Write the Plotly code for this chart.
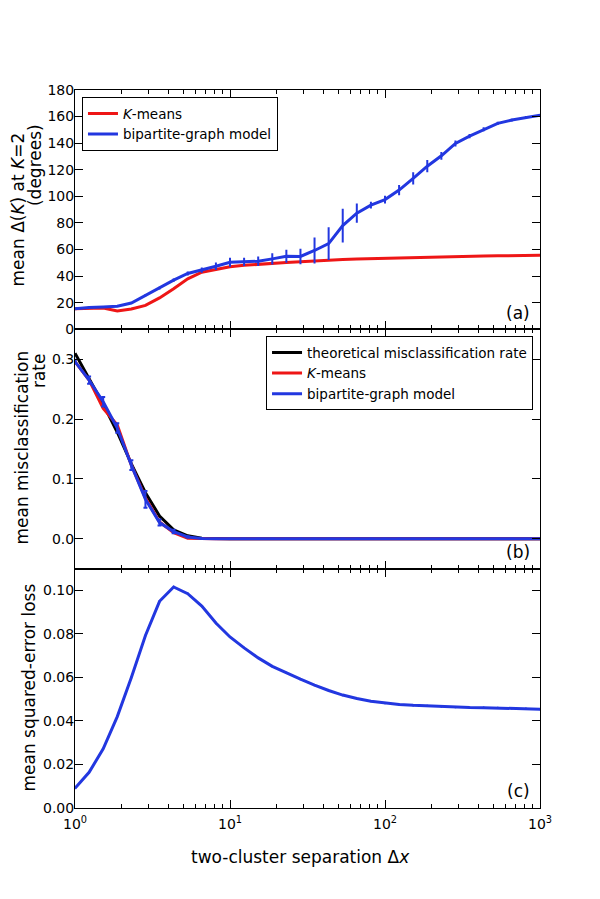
import plotly.graph_objects as go
from plotly.subplots import make_subplots

# separation values (log spaced, 1 to 1000)
sep = [1.0, 1.233, 1.52, 1.874, 2.31, 2.848, 3.511, 4.329, 5.337, 6.579,
       8.111, 10.0, 12.33, 15.2, 18.74, 23.1, 28.48, 35.11, 43.29, 53.37,
       65.79, 81.11, 100.0, 123.3, 152.0, 187.4, 231.0, 284.8, 351.1, 432.9,
       533.7, 657.9, 811.1, 1000.0]

# (a) mean Delta(K) at K=2, degrees
delta_kmeans = [15.5, 15.9, 16.0, 13.8, 15.3, 18.0, 23.6, 30.6, 38.0, 43.0,
                45.0, 47.0, 48.2, 48.7, 49.4, 50.2, 50.8, 51.5, 52.0, 52.5,
                52.9, 53.2, 53.5, 53.8, 54.0, 54.3, 54.5, 54.7, 54.9, 55.1,
                55.3, 55.5, 55.6, 55.7]
delta_bip = [15.5, 16.5, 16.8, 17.3, 19.8, 25.6, 31.0, 37.0, 42.0, 44.5,
             47.5, 50.5, 50.7, 51.2, 53.0, 55.0, 54.8, 59.3, 64.5, 78.0,
             87.4, 93.4, 97.6, 104.7, 113.5, 122.7, 130.5, 139.8, 145.3, 150.4,
             154.9, 157.4, 159.4, 161.0]
delta_bip_err = [0.3, 0.4, 0.4, 0.5, 0.6, 0.8, 1.0, 1.2, 1.5, 2.0,
                 2.8, 3.4, 3.1, 3.5, 4.3, 4.9, 5.8, 9.8, 12.3, 12.6,
                 7.3, 2.5, 2.9, 3.8, 4.6, 4.6, 2.9, 2.3, 1.6, 1.5,
                 1.2, 1.0, 1.0, 1.0]

# (b) mean misclassification rate
mis_theory = [0.31, 0.268, 0.225, 0.178, 0.125, 0.077, 0.038, 0.015, 0.005, 0.001,
              0.0002, 0, 0, 0, 0, 0, 0, 0, 0, 0,
              0, 0, 0, 0, 0, 0, 0, 0, 0, 0,
              0, 0, 0, 0]
mis_kmeans = [0.296, 0.265, 0.218, 0.19, 0.123, 0.068, 0.028, 0.01, 0.001, 0.0,
              0, 0, 0, 0, 0, 0, 0, 0, 0, 0,
              0, 0, 0, 0, 0, 0, 0, 0, 0, 0,
              0, 0, 0, 0]
mis_bip = [0.296, 0.265, 0.229, 0.185, 0.123, 0.066, 0.027, 0.012, 0.003, 0.0005,
           0, 0, 0, 0, 0, 0, 0, 0, 0, 0,
           0, 0, 0, 0, 0, 0, 0, 0, 0, 0,
           0, 0, 0, 0]
mis_bip_err = [0.003, 0.006, 0.008, 0.008, 0.008, 0.014, 0.005, 0.003, 0.001, 0,
               0, 0, 0, 0, 0, 0, 0, 0, 0, 0,
               0, 0, 0, 0, 0, 0, 0, 0, 0, 0,
               0, 0, 0, 0]

# (c) mean squared-error loss
mse_bip = [0.0091, 0.0164, 0.0272, 0.042, 0.060, 0.0793, 0.095, 0.1016, 0.0985, 0.0928,
           0.085, 0.0786, 0.0736, 0.069, 0.0651, 0.0621, 0.0592, 0.0565, 0.054, 0.0519,
           0.0503, 0.0491, 0.0482, 0.0476, 0.0472, 0.0469, 0.0466, 0.0464, 0.0462, 0.0461,
           0.046, 0.0458, 0.0457, 0.0454]
mse_bip_err = [0.0005] * len(mse_bip)

RED = "#ee1616"
BLUE = "#2237e0"

fig = make_subplots(rows=3, cols=1, shared_xaxes=True, vertical_spacing=0)

# --- panel (a) ---
fig.add_trace(go.Scatter(x=sep, y=delta_kmeans, mode="lines", name="<i>K</i>-means",
                         line=dict(color=RED, width=3), legend="legend"), row=1, col=1)
fig.add_trace(go.Scatter(x=sep, y=delta_bip, mode="lines", name="bipartite-graph model",
                         line=dict(color=BLUE, width=3), legend="legend",
                         error_y=dict(type="data", array=delta_bip_err, color=BLUE,
                                      thickness=2, width=0)), row=1, col=1)

# --- panel (b) ---
fig.add_trace(go.Scatter(x=sep, y=mis_theory, mode="lines", name="theoretical misclassification rate",
                         line=dict(color="black", width=3), legend="legend2"), row=2, col=1)
fig.add_trace(go.Scatter(x=sep, y=mis_kmeans, mode="lines", name="<i>K</i>-means",
                         line=dict(color=RED, width=3), legend="legend2"), row=2, col=1)
fig.add_trace(go.Scatter(x=sep, y=mis_bip, mode="lines", name="bipartite-graph model",
                         line=dict(color=BLUE, width=3), legend="legend2",
                         error_y=dict(type="data", array=mis_bip_err, color=BLUE,
                                      thickness=2, width=2)), row=2, col=1)

# --- panel (c) ---
fig.add_trace(go.Scatter(x=sep, y=mse_bip, mode="lines", showlegend=False,
                         line=dict(color=BLUE, width=3),
                         error_y=dict(type="data", array=mse_bip_err, color=BLUE,
                                      thickness=1.5, width=0)), row=3, col=1)

axis_style = dict(showline=True, linecolor="black", linewidth=1, mirror="allticks",
                  ticks="inside", ticklen=8, tickcolor="black", showgrid=False,
                  zeroline=False, tickfont=dict(size=14, color="black"), automargin=False)

for r in (1, 2, 3):
    fig.update_xaxes(type="log", range=[0, 3], tickvals=[1, 10, 100, 1000],
                     ticktext=["10<sup>0</sup>", "10<sup>1</sup>", "10<sup>2</sup>", "10<sup>3</sup>"],
                     minor=dict(ticks="inside", ticklen=4, tickcolor="black",
                                tickvals=[v * d for d in (1, 10, 100) for v in range(2, 10)]),
                     ticklabelstandoff=3, row=r, col=1, **axis_style)

fig.update_yaxes(range=[0, 180], tickvals=list(range(0, 181, 20)), ticklabelstandoff=-3,
                 row=1, col=1, **axis_style)
fig.update_yaxes(range=[-0.05, 0.35], tickvals=[0.0, 0.1, 0.2, 0.3], tickformat=".1f",
                 ticklabelstandoff=-3, row=2, col=1, **axis_style)
fig.update_yaxes(range=[0, 0.11], tickvals=[0, 0.02, 0.04, 0.06, 0.08, 0.10], tickformat=".2f",
                 ticklabelstandoff=-3, row=3, col=1, **axis_style)

# y-axis titles, one rotated annotation per line (placed like the original)
y_titles = [("mean Δ(<i>K</i>) at <i>K</i>=2", -0.1235, 0.833),
            ("(degrees)", -0.086, 0.8955),
            ("mean misclassification", -0.114, 0.502),
            ("rate", -0.0774, 0.6086),
            ("mean squared-error loss", -0.0989, 0.1678)]
for txt, xp, yp in y_titles:
    fig.add_annotation(text=txt, xref="paper", yref="paper", x=xp, y=yp,
                       xanchor="center", yanchor="middle", textangle=-90,
                       showarrow=False, font=dict(size=17, color="black"))

# x-axis title
fig.add_annotation(text="two-cluster separation Δ<i>x</i>", xref="paper", yref="paper",
                   x=0.486, y=-0.068, xanchor="center", yanchor="middle",
                   showarrow=False, font=dict(size=17, color="black"))

for r, lab in zip((1, 2, 3), ("(a)", "(b)", "(c)")):
    fig.add_annotation(text=lab, xref="x domain" if r == 1 else f"x{r} domain",
                       yref="y domain" if r == 1 else f"y{r} domain",
                       x=0.983, y=0.02, xanchor="right", yanchor="bottom",
                       showarrow=False, font=dict(size=17, color="black"))

legend_style = dict(bgcolor="white", bordercolor="black", borderwidth=1,
                    font=dict(size=13.5, color="black"), itemwidth=30,
                    tracegroupgap=0)

fig.update_layout(
    width=600, height=899,
    margin=dict(l=67, r=68, t=82, b=99),
    plot_bgcolor="white", paper_bgcolor="white",
    font=dict(family="DejaVu Sans", color="black"),
    legend=dict(x=0.015, y=0.99, xanchor="left", yanchor="top", **legend_style),
    legend2=dict(x=0.985, y=0.657, xanchor="right", yanchor="top", **legend_style),
)

fig.write_html("out.html")
